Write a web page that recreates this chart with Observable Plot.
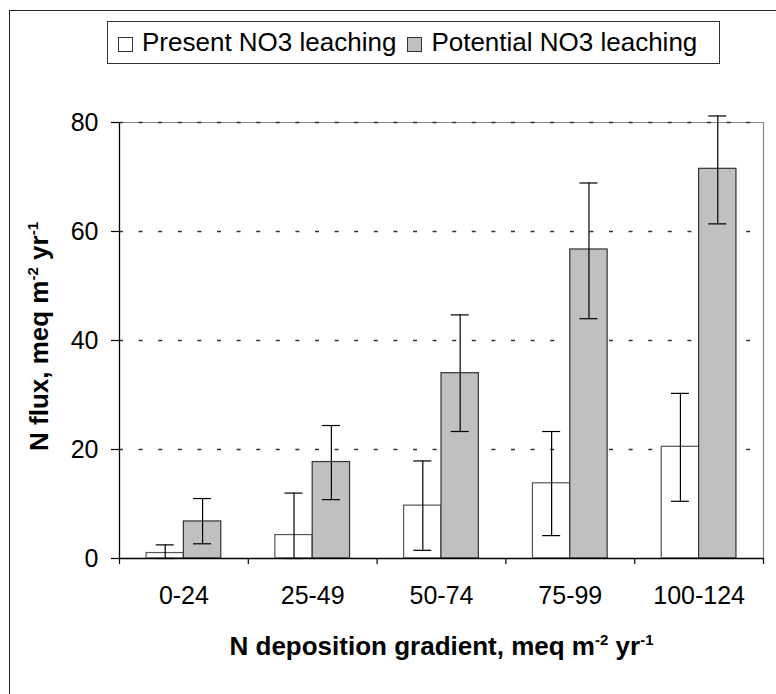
<!DOCTYPE html>
<html><head><meta charset="utf-8">
<script src="https://cdn.jsdelivr.net/npm/d3@7"></script>
<script src="https://cdn.jsdelivr.net/npm/@observablehq/plot@0.6"></script>
<style>
body{margin:0;background:#fff;font-family:"Liberation Sans",Arial,sans-serif;}
#wrap{position:relative;width:776px;height:694px;overflow:hidden;background:#fff;}
#frame{position:absolute;left:9px;top:10px;width:800px;height:720px;border:1.5px solid #222;}
#chart{position:absolute;left:0;top:0;}
#legend{position:absolute;left:107px;top:21px;width:613px;height:43px;box-sizing:border-box;border:1.5px solid #333;display:flex;align-items:center;padding-left:10px;font-size:26px;color:#000;background:#fff;white-space:nowrap;}
#legend .sw{width:15px;height:15px;box-sizing:border-box;border:1.2px solid #333;margin-right:9px;flex:none;margin-top:3px}
#legend .item{display:flex;align-items:center;margin-right:11px}
</style></head>
<body><div id="wrap"><div id="frame"></div><div id="chart"></div><div id="legend"></div></div>
<script>
const categories = ["0-24", "25-49", "50-74", "75-99", "100-124"];
const seriesNames = ["Present NO3 leaching", "Potential NO3 leaching"];
const seriesFills = ["#ffffff", "#c0c0c0"];
const presentValues = [1.0, 4.3, 9.7, 13.8, 20.5];
const presentLow = [0, 0, 1.5, 4.2, 10.5];
const presentHigh = [2.5, 12.0, 17.9, 23.3, 30.3];
const potentialValues = [6.8, 17.7, 34.0, 56.7, 71.5];
const potentialLow = [2.7, 10.8, 23.3, 44.0, 61.4];
const potentialHigh = [11.0, 24.4, 44.7, 68.9, 81.2];
const yTicks = [0, 20, 40, 60, 80];
const yTitle = "N flux, meq m-2 yr-1";
const xTitle = "N deposition gradient, meq m-2 yr-1";

// layout constants (fractions of a category band)
const groupInset = 0.21, capHalf = 0.07;

const rows = [];
categories.forEach((c, i) => {
  [[presentValues, presentLow, presentHigh], [potentialValues, potentialLow, potentialHigh]].forEach(([v, lo, hi], s) => {
    const x1 = s === 0 ? i + groupInset : i + 0.5;
    const x2 = s === 0 ? i + 0.5 : i + 1 - groupInset;
    rows.push({cat: c, i, series: seriesNames[s], s, value: v[i], lo: lo[i], hi: hi[i], x1, x2, xc: (x1 + x2) / 2});
  });
});
const caps = rows.flatMap(r => [{y: r.lo, c1: r.xc - capHalf, c2: r.xc + capHalf}, {y: r.hi, c1: r.xc - capHalf, c2: r.xc + capHalf}]);

const font = "'Liberation Sans', Arial, sans-serif";
const chart = Plot.plot({
  width: 776, height: 694,
  marginTop: 122, marginLeft: 119, marginRight: 13, marginBottom: 136,
  style: {background: "transparent", fontFamily: font, color: "#000", overflow: "visible"},
  x: {type: "linear", domain: [0, categories.length]},
  y: {domain: [0, 80]},
  marks: [
    Plot.ruleY([80], {stroke: "#888", strokeWidth: 1.2}),
    Plot.frame({anchor: "right", stroke: "#888", strokeWidth: 1.2}),
    Plot.gridY(yTicks.filter(d => d > 0), {stroke: "#333", strokeOpacity: 1, strokeWidth: 1.3, strokeDasharray: "4,15.6"}),
    Plot.rectY(rows, {x1: "x1", x2: "x2", y: "value", fill: d => seriesFills[d.s], stroke: d => d.s === 0 ? "#555" : "#333", strokeWidth: 1.2}),
    Plot.ruleX(rows, {x: "xc", y1: "lo", y2: "hi", stroke: "#000", strokeWidth: 1.2}),
    Plot.ruleY(caps, {y: "y", x1: "c1", x2: "c2", stroke: "#000", strokeWidth: 1.2}),
    Plot.ruleX([0], {stroke: "#000", strokeWidth: 1.3}),
    Plot.ruleY([0], {stroke: "#000", strokeWidth: 1.3}),
    Plot.axisY({ticks: yTicks, tickSize: 8, tickPadding: 13, fontSize: 25, label: null, strokeWidth: 1.2}),
    Plot.axisX({ticks: d3.range(categories.length + 1), tickSize: 6, tickFormat: () => "", label: null, strokeWidth: 1.2}),
    Plot.axisX({ticks: categories.map((c, i) => i + 0.5), tickSize: 0, tickPadding: 28, tickFormat: d => categories[Math.floor(d)], fontSize: 25, label: null}),
    Plot.text([xTitle], {frameAnchor: "bottom", textAnchor: "middle", lineAnchor: "middle", dy: 88, fontSize: 26, fontWeight: "bold", fill: "#000"}),
    Plot.text([yTitle], {frameAnchor: "left", textAnchor: "middle", lineAnchor: "middle", rotate: -90, dx: -80, dy: -4, fontSize: 26, fontWeight: "bold", fill: "#000"})
  ]
});
document.getElementById("chart").appendChild(chart);

// superscripts in axis titles
function supify(full) {
  d3.select(chart).selectAll("text").filter(function() { return this.textContent === full; }).each(function() {
    const t = d3.select(this);
    t.text(null);
    const parts = full.split(/(-\d)/).filter(p => p !== "");
    let raised = false;
    parts.forEach(p => {
      const isSup = /^-\d$/.test(p);
      const ts = t.append("tspan").text(p);
      if (isSup) { ts.attr("font-size", 15).attr("dy", raised ? 0 : -10); raised = true; }
      else if (raised) { ts.attr("dy", 10); raised = false; }
    });
  });
}
supify(xTitle);
supify(yTitle);

// legend
const legend = d3.select("#legend");
seriesNames.forEach((name, s) => {
  const it = legend.append("div").attr("class", "item");
  it.append("div").attr("class", "sw").style("background", seriesFills[s]);
  it.append("span").text(name);
});
</script>
</body></html>
